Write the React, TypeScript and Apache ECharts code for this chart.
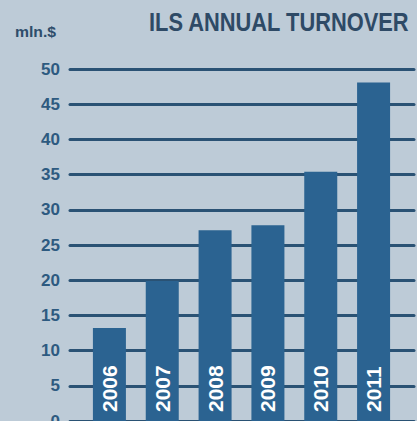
import React, { useEffect, useRef } from "react";
import * as echarts from "echarts";

const years = ["2006", "2007", "2008", "2009", "2010", "2011"];
const turnover = [13.2, 19.9, 27.1, 27.8, 35.4, 48.1];
const yTicks = { min: 0, max: 50, interval: 5 };

export default function App() {
  const ref = useRef<HTMLDivElement>(null);
  useEffect(() => {
    if (!ref.current) return;
    const chart = echarts.init(ref.current, null, { renderer: "svg" });
    const lineColor = "#2a5274";
    const barColor = "#2b6391";
    const ff = "'Liberation Sans', Arial, sans-serif";
    chart.setOption({
      animation: false,
      backgroundColor: "#bdcbd7",
      graphic: [
        {
          type: "text",
          x: 15,
          y: 24,
          scaleX: 1.05,
          style: { text: "mln.$", fill: "#2e4d6b", font: `bold 15px ${ff}` },
        },
        {
          type: "text",
          x: 149,
          y: 9,
          scaleX: 0.84,
          style: { text: "ILS ANNUAL TURNOVER", fill: "#2e4a66", font: `bold 26px ${ff}` },
        },
      ],
      grid: [
        { left: 70, right: 3, top: 69, bottom: 0, outerBoundsMode: "none", containLabel: false },
        { left: 83, right: 17, top: 69, bottom: 0, outerBoundsMode: "none", containLabel: false },
      ],
      xAxis: [
        { type: "category", gridIndex: 0, data: years, show: false },
        { type: "category", gridIndex: 1, data: years, show: false },
      ],
      yAxis: [
        {
          type: "value",
          gridIndex: 0,
          min: yTicks.min,
          max: yTicks.max,
          interval: yTicks.interval,
          axisLine: { show: false },
          axisTick: { show: false },
          axisLabel: {
            color: "#2d5a80",
            fontWeight: "bold",
            fontSize: 17,
            margin: 10,
            fontFamily: ff,
          },
          splitLine: { lineStyle: { color: lineColor, width: 3, cap: "round" } },
        },
        {
          type: "value",
          gridIndex: 1,
          min: yTicks.min,
          max: yTicks.max,
          interval: yTicks.interval,
          show: false,
          splitLine: { show: false },
        },
      ],
      series: [
        {
          type: "bar",
          xAxisIndex: 1,
          yAxisIndex: 1,
          data: turnover,
          barWidth: 33,
          itemStyle: { color: barColor },
          label: {
            show: true,
            position: "insideBottom",
            rotate: 90,
            align: "left",
            verticalAlign: "middle",
            distance: 9,
            formatter: (p: any) => years[p.dataIndex],
            color: "#ffffff",
            fontWeight: "bold",
            fontSize: 21,
            fontFamily: ff,
          },
        },
      ],
    });
    return () => chart.dispose();
  }, []);
  return (
    <div
      ref={ref}
      style={{ position: "fixed", left: 0, top: 0, width: 417, height: 421 }}
    />
  );
}
